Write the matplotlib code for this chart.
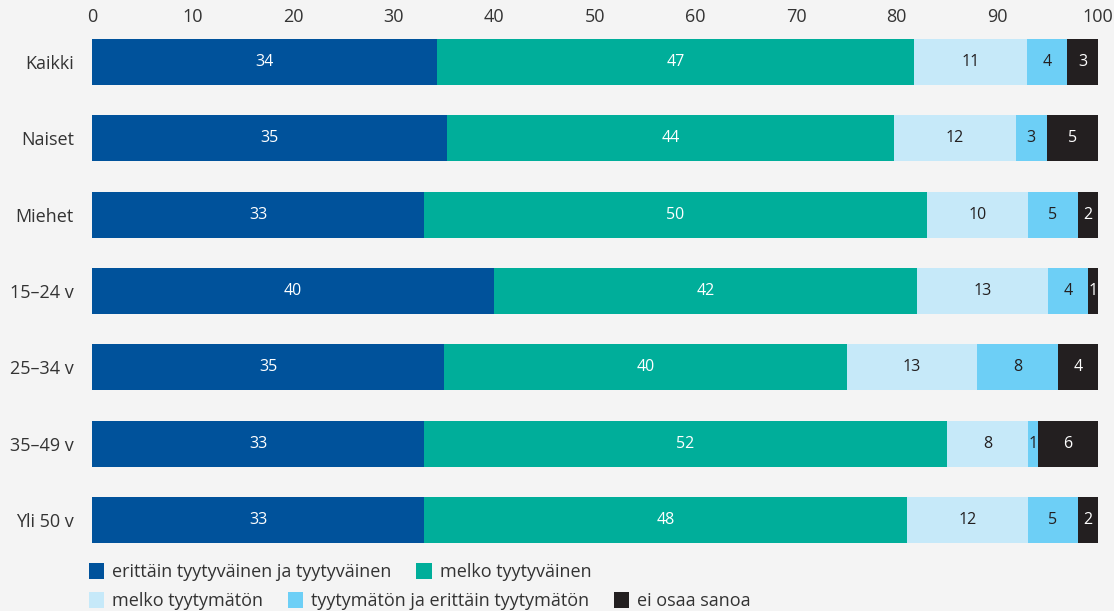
import matplotlib
matplotlib.use("Agg")
import matplotlib.pyplot as plt
from matplotlib.patches import Patch

plt.rcParams['font.family'] = ['Open Sans', 'DejaVu Sans']

# data
groups = ["Kaikki", "Naiset", "Miehet", "15–24 v", "25–34 v", "35–49 v", "Yli 50 v"]
series_names = ["erittäin tyytyväinen ja tyytyväinen", "melko tyytyväinen",
                "melko tyytymätön", "tyytymätön ja erittäin tyytymätön", "ei osaa sanoa"]
tyytyvainen = [34.3, 35.3, 33, 40, 35, 33, 33]
melko_tyytyvainen = [47.4, 44.4, 50, 42, 40, 52, 48]
melko_tyytymaton = [11.2, 12.1, 10, 13, 13, 8, 12]
tyytymaton = [4.0, 3.1, 5, 4, 8, 1, 5]
ei_osaa = [3.1, 5.1, 2, 1, 4, 6, 2]
series = [tyytyvainen, melko_tyytyvainen, melko_tyytymaton, tyytymaton, ei_osaa]

colors = ["#00529b", "#00ae9a", "#c6e9f9", "#6dcff6", "#231f20"]
label_colors = ["white", "white", "#231f20", "#231f20", "white"]
bg = "#f4f4f4"
txt = "#333333"

fig = plt.figure(figsize=(11.14, 6.11), dpi=100, facecolor=bg)
ax = fig.add_axes([92 / 1114, 1 - 543 / 611, 1006 / 1114, 504 / 611])
ax.set_facecolor(bg)

y = list(range(len(groups)))
left = [0] * len(groups)
for vals, col, lc, name in zip(series, colors, label_colors, series_names):
    bars = ax.barh(y, vals, left=left, height=0.6, color=col, label=name)
    ax.bar_label(bars, labels=[f"{v:.0f}" for v in vals], label_type="center",
                 color=lc, fontsize=11.5)
    left = [a + b for a, b in zip(left, vals)]

ax.set_xlim(0, 100)
ax.set_ylim(len(groups) - 0.7, -0.3)
ax.set_xticks(range(0, 101, 10))
ax.set_yticks(y)
ax.set_yticklabels(groups)
ax.xaxis.tick_top()
ax.tick_params(axis="x", length=0, pad=9, labelsize=13, labelcolor=txt)
ax.tick_params(axis="y", length=0, pad=13, labelsize=13, labelcolor=txt)
for s in ax.spines.values():
    s.set_visible(False)

handles = [Patch(facecolor=c, edgecolor="none") for c in colors]
leg_kw = dict(frameon=False, fontsize=13, handlelength=0.85, handleheight=1.0,
              handletextpad=0.45, columnspacing=1.35, borderaxespad=0, borderpad=0,
              labelcolor=txt)
leg1 = fig.legend(handles[:2], series_names[:2], ncol=2, loc="center left",
                  bbox_to_anchor=(89 / 1114, 1 - 572 / 611), **leg_kw)
leg2 = fig.legend(handles[2:], series_names[2:], ncol=3, loc="center left",
                  bbox_to_anchor=(89 / 1114, 1 - 601 / 611), **leg_kw)

fig.savefig("out.png", dpi=100, facecolor=bg)
